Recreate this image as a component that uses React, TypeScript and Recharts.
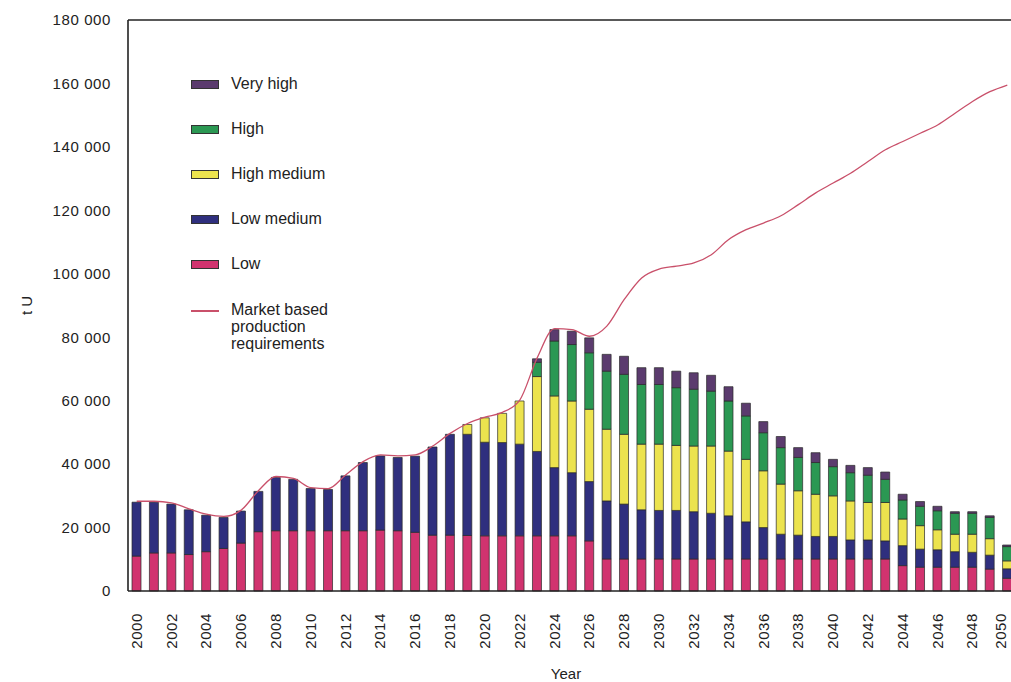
import React from 'react';
import { ComposedChart, Bar, Line, XAxis, YAxis, ReferenceLine, Label } from 'recharts';

// values in thousand tonnes U
const years = [
  '2000', '2001', '2002', '2003', '2004', '2005', '2006', '2007', '2008', '2009',
  '2010', '2011', '2012', '2013', '2014', '2015', '2016', '2017', '2018', '2019',
  '2020', '2021', '2022', '2023', '2024', '2025', '2026', '2027', '2028', '2029',
  '2030', '2031', '2032', '2033', '2034', '2035', '2036', '2037', '2038', '2039',
  '2040', '2041', '2042', '2043', '2044', '2045', '2046', '2047', '2048', '2049',
  '2050',
];

const low = [
  11, 12, 12, 11.5, 12.4, 13.4, 15.1, 18.7, 19, 19,
  19, 19, 19, 19, 19.2, 19, 18.5, 17.6, 17.6, 17.5,
  17.4, 17.4, 17.4, 17.4, 17.4, 17.4, 15.8, 10.1, 10.1, 10.1,
  10.1, 10.1, 10.1, 10.1, 10.1, 10.1, 10.1, 10.1, 10.1, 10.1,
  10.1, 10.1, 10.1, 10.1, 8, 7.5, 7.5, 7.5, 7.5, 6.9,
  4,
];

const lowMedium = [
  17, 16, 15.4, 14.1, 11.5, 9.8, 10.1, 12.7, 16.8, 16.2,
  13.3, 13, 17.3, 21.5, 23.4, 23.1, 24, 27.8, 31.8, 31.9,
  29.5, 29.4, 28.9, 26.6, 21.5, 19.9, 18.7, 18.3, 17.3, 15.5,
  15.3, 15.3, 14.9, 14.4, 13.6, 11.7, 9.9, 7.8, 7.5, 7.1,
  7.1, 6, 6, 5.7, 6.3, 5.7, 5.5, 4.9, 4.7, 4.4,
  3,
];

const highMedium = [
  0, 0, 0, 0, 0, 0, 0, 0, 0, 0,
  0, 0, 0, 0, 0, 0, 0, 0, 0, 3.1,
  7.7, 9.2, 13.6, 23.6, 22.6, 22.6, 22.8, 22.6, 22, 20.7,
  20.9, 20.5, 20.7, 21.2, 20.4, 19.7, 17.9, 15.8, 14, 13.3,
  12.8, 12.3, 11.8, 12.1, 8.4, 7.4, 6.3, 5.5, 5.7, 5.2,
  2.5,
];

const high = [
  0, 0, 0, 0, 0, 0, 0, 0, 0, 0,
  0, 0, 0, 0, 0, 0, 0, 0, 0, 0,
  0, 0, 0, 4.5, 17.3, 17.8, 17.8, 18.3, 18.9, 18.8,
  18.8, 18.2, 17.9, 17.3, 15.8, 13.7, 12, 11.5, 10.5, 10,
  9.2, 8.9, 8.6, 7.3, 6, 6.1, 6, 6.6, 6.6, 6.7,
  4.5,
];

const veryHigh = [
  0, 0, 0, 0, 0, 0, 0, 0, 0, 0,
  0, 0, 0, 0, 0, 0, 0, 0, 0, 0,
  0, 0, 0, 1.1, 3.6, 4.2, 4.7, 5.3, 5.7, 5.3,
  5.3, 5.2, 5.2, 5, 4.5, 4, 3.5, 3.5, 3.1, 3.1,
  2.3, 2.3, 2.4, 2.3, 1.8, 1.5, 1.4, 0.5, 0.5, 0.5,
  0.5,
];

const marketRequirements = [
  28.3, 28.3, 27.8, 25.9, 24.2, 23.5, 25.5, 31.7, 36.1, 35.5,
  32.6, 32.3, 36.6, 40.8, 42.9, 42.6, 42.9, 45.7, 49.7, 52.8,
  54.8, 56.3, 60.2, 73.5, 82.7, 82.4, 80.3, 83.5, 91.9, 98.7,
  101.5, 102.4, 103.4, 106, 110.8, 113.9, 116, 118.3, 121.8, 125.5,
  128.6, 131.7, 135.4, 139.1, 141.7, 144.3, 146.9, 150.6, 154.3, 157.4,
  159.5,
];

const yTicks = [0, 20, 40, 60, 80, 100, 120, 140, 160, 180];

const series = [
  { key: 'veryHigh', name: 'Very high', color: '#5b3b6e' },
  { key: 'high', name: 'High', color: '#2b9853' },
  { key: 'highMedium', name: 'High medium', color: '#ece34e' },
  { key: 'lowMedium', name: 'Low medium', color: '#2f2f7e' },
  { key: 'low', name: 'Low', color: '#d1336f' },
];
const lineColor = '#c9506a';

const data = years.map((year, i) => ({
  year,
  low: low[i],
  lowMedium: lowMedium[i],
  highMedium: highMedium[i],
  high: high[i],
  veryHigh: veryHigh[i],
  market: marketRequirements[i],
}));

const font = '"Liberation Sans", Arial, sans-serif';

const YearTick = (props: any) => {
  const { x, y, payload } = props;
  const ty = y + 14;
  // keep the last label inside the visible frame
  const tx = Math.min(x + 5, 1006);
  return (
    <text
      x={tx}
      y={ty}
      transform={`rotate(-90, ${tx}, ${ty})`}
      textAnchor="end"
      fontSize={15}
      fontFamily={font}
      fill="#222"
      letterSpacing={0.6}
    >
      {payload.value}
    </text>
  );
};

const Legendish = () => (
  <div style={{ position: 'absolute', left: 191, top: 74, fontFamily: font, fontSize: 16, color: '#222', whiteSpace: 'nowrap' }}>
    {series.map((s, i) => (
      <div key={s.key} style={{ position: 'absolute', top: i * 45, left: 0, display: 'flex', alignItems: 'center', height: 20 }}>
        <span style={{ display: 'inline-block', width: 26, height: 7, background: s.color, border: '1px solid #333', marginRight: 12 }} />
        <span>{s.name}</span>
      </div>
    ))}
    <div style={{ position: 'absolute', top: 227, left: 0, display: 'flex' }}>
      <span style={{ display: 'inline-block', width: 28, height: 1.5, background: lineColor, marginTop: 9, marginRight: 12 }} />
      <span style={{ lineHeight: '17px' }}>
        Market based
        <br />
        production
        <br />
        requirements
      </span>
    </div>
  </div>
);

export default function App() {
  return (
    <div style={{ position: 'fixed', left: 0, top: 0, width: 1011, height: 682, overflow: 'hidden', background: '#fff' }}>
      <ComposedChart
        width={1020}
        height={682}
        data={data}
        margin={{ top: 20, right: 4, left: 0, bottom: 41 }}
        barCategoryGap={0}
      >
        <XAxis
          dataKey="year"
          interval={1}
          tickLine={false}
          axisLine={{ stroke: '#222', strokeWidth: 1.6 }}
          height={50}
          tick={<YearTick />}
        >
          <Label value="Year" position="bottom" offset={27} dx={-6} fontSize={15} fontFamily={font} fill="#222" />
        </XAxis>
        <YAxis
          width={128}
          domain={[0, 180]}
          ticks={yTicks}
          tickLine={false}
          tickSize={15}
          axisLine={{ stroke: '#222', strokeWidth: 1.6 }}
          tick={{ fontSize: 15, fontFamily: font, fill: '#222', letterSpacing: 0.6 }}
          tickFormatter={(v: number) => (v === 0 ? '0' : `${v} 000`)}
        >
          <Label
            content={(p: any) => {
              const vb = p.viewBox;
              const cx = 32;
              const cy = vb.y + vb.height / 2;
              return (
                <text x={cx} y={cy} transform={`rotate(-90, ${cx}, ${cy})`} textAnchor="middle" fontSize={15} fontFamily={font} fill="#222">
                  t U
                </text>
              );
            }}
          />
        </YAxis>
        <ReferenceLine y={180} stroke="#222" strokeWidth={1.6} />
        {[...series].reverse().map((s) => (
          <Bar
            key={s.key}
            dataKey={s.key}
            name={s.name}
            stackId="u"
            fill={s.color}
            stroke="#2a2a2a"
            strokeWidth={0.7}
            barSize={9}
            isAnimationActive={false}
          />
        ))}
        <Line
          dataKey="market"
          name="Market based production requirements"
          type="monotone"
          stroke={lineColor}
          strokeWidth={1.3}
          dot={false}
          activeDot={false}
          isAnimationActive={false}
        />
      </ComposedChart>
      <Legendish />
    </div>
  );
}
